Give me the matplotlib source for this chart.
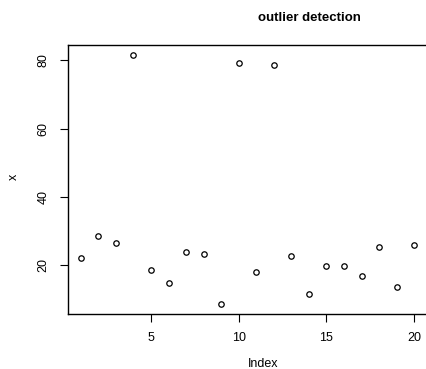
import numpy as np
import matplotlib.pyplot as plt

plt.rcParams['font.family'] = ['Liberation Sans', 'DejaVu Sans']

index = np.arange(1, 21)
x = [22.2, 28.5, 26.6, 81.4, 18.7, 14.9, 23.9, 23.2, 8.7, 79.2,
     18.2, 78.6, 22.8, 11.5, 19.7, 19.9, 17.0, 25.5, 13.7, 26.1]
xticks = [5, 10, 15, 20]
yticks = [20, 40, 60, 80]

W, H = 427, 369
fig = plt.figure(figsize=(W / 100, H / 100), dpi=100)
ax = fig.add_axes([67.5 / W, 1 - 314 / H, (427.5 - 67.5) / W, (314 - 45) / H])

ax.plot(index, x, 'o', mfc='none', mec='black', ms=3.9, mew=0.9)
ax.set_xlim(0.24, 20.76)
ax.set_ylim(5.8, 84.4)

ax.set_xticks(xticks)
ax.set_yticks(yticks)
ax.set_xticklabels([str(t) for t in xticks], fontsize=9)
ax.set_yticklabels([str(t) for t in yticks], fontsize=9, rotation=90, va='center')
ax.tick_params(direction='out', length=6, width=0.8, pad=7)
for s in ax.spines.values():
    s.set_linewidth(1.0)
ax.spines['right'].set_color('#bbbbbb')

fig.text(309 / W, 1 - 18 / H, 'outlier detection', ha='center', va='center',
         fontsize=9.5, fontweight='bold')
fig.text(263 / W, 1 - 364 / H, 'Index', ha='center', va='center', fontsize=9)
fig.text(14 / W, 1 - 177 / H, 'x', ha='center', va='center', fontsize=9, rotation=90)

fig.savefig('out.png', dpi=100)
